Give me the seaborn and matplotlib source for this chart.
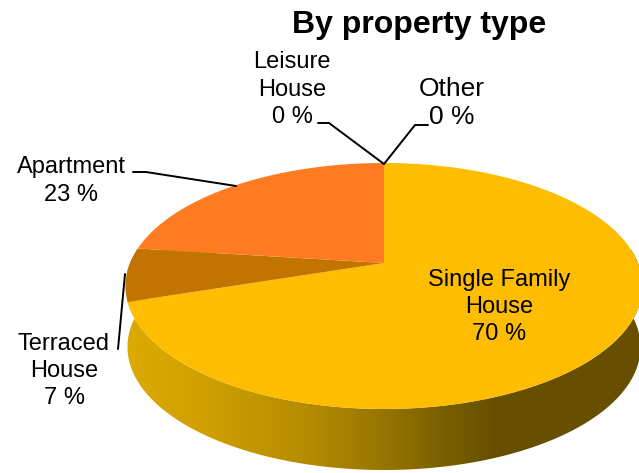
import numpy as np
import matplotlib
matplotlib.use("Agg")
import matplotlib.pyplot as plt
import seaborn as sns
from matplotlib.colors import LinearSegmentedColormap
from matplotlib.patches import Polygon

# === 1. Chart data ===
categories = ["Single Family\nHouse", "Terraced\nHouse", "Apartment", "Leisure\nHouse", "Other"]
shares = [70, 7, 23, 0, 0]
slice_colors = ["#FEBD00", "#C27400", "#FF7B21", "#A5A5A5", "#4472C4"]
wall_stops = [(0.0, "#DCAB00"), (0.15, "#CFA000"), (0.35, "#B58C00"), (0.5, "#977500"),
              (0.62, "#7A5F00"), (0.72, "#665000"), (1.0, "#665000")]

sns.set_theme(style="white")
plt.rcParams["font.family"] = ["Liberation Sans", "DejaVu Sans"]

fig, ax = plt.subplots(figsize=(6.39, 4.73), dpi=100)
fig.subplots_adjust(left=0, right=1, top=1, bottom=0)

# === 2. Let pie work out the slice angles, then draw them in perspective ===
wedges, _ = ax.pie(shares, colors=slice_colors, startangle=90, counterclock=False)
ax.set_aspect("auto")


def project(theta, r=1.0, cx=384, cy=263, a=0.187, sx=254, sy=118.7):
    x = r * np.cos(np.radians(theta))
    y = r * np.sin(np.radians(theta))
    w = 1 + a * y
    return cx + sx * x / w, cy - sy * y / w


# side wall with the horizontal shading
angles = np.linspace(140, 400, 300)
top_x, top_y = project(angles)
low_x, low_y = project(angles, cy=324, sx=252)
wall_xy = np.column_stack([np.r_[top_x, low_x[::-1]], np.r_[top_y, low_y[::-1]]])
wall = Polygon(wall_xy, closed=True, facecolor="none", edgecolor="none")
ax.add_patch(wall)
wall_cmap = LinearSegmentedColormap.from_list("wall", wall_stops)
img = ax.imshow(np.linspace(0, 1, 512)[None, :], cmap=wall_cmap, extent=(127, 639, 473, 250),
                aspect="auto", zorder=1)
img.set_clip_path(wall)
ax.set_xlim(0, 639)
ax.set_ylim(473, 0)

# top surface
for w, color in zip(wedges, slice_colors):
    w.set_visible(False)
    if w.theta2 - w.theta1 < 0.01:
        continue
    t = np.linspace(w.theta1, w.theta2, 200)
    px, py = project(t)
    ax.fill(np.r_[384, px], np.r_[263, py], color=color, lw=0, zorder=2)

# === 3. Labels and leader lines ===
label_font = 17
spacing = 1.32
ax.text(499, 307, f"{categories[0]}\n{shares[0]} %", ha="center", va="center", fontsize=label_font,
        color="black", linespacing=spacing, zorder=4)
ax.text(64, 371, f"{categories[1]}\n{shares[1]} %", ha="center", va="center", fontsize=label_font,
        color="black", linespacing=spacing)
ax.text(71, 181, f"{categories[2]}\n{shares[2]} %", ha="center", va="center", fontsize=label_font,
        color="black", linespacing=spacing)
ax.text(292, 89.5, f"{categories[3]}\n{shares[3]} %", ha="center", va="center", fontsize=label_font,
        color="black", linespacing=spacing)
ax.text(452, 103, f"{categories[4]}\n{shares[4]} %", ha="center", va="center", fontsize=19,
        color="black", linespacing=1.2)

leaders = [([318, 329, 384], [123, 123, 164]),
           ([428, 415, 384], [125, 125, 164]),
           ([133, 146, 236], [172, 172, 186]),
           ([118, 125], [349, 274])]
for lx, ly in leaders:
    ax.plot(lx, ly, color="black", lw=1.4, solid_joinstyle="miter", zorder=3)

ax.text(419.5, 25, "By property type", ha="center", va="center", fontsize=23, fontweight="bold", color="black")

fig.savefig("out.png", dpi=100)
